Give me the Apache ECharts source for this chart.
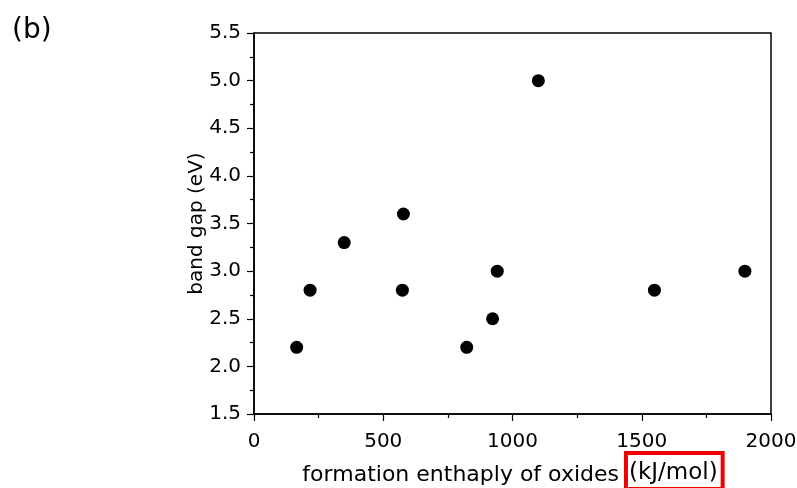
<!DOCTYPE html>
<html>
<head>
<meta charset="utf-8">
<script src="https://cdn.jsdelivr.net/npm/echarts@6/dist/echarts.min.js"></script>
<style>html,body{margin:0;padding:0;background:#fff}#c{width:797px;height:488px}</style>
</head>
<body>
<div id="c"></div>
<script>
const enthalpy = [165, 217, 349, 578, 574, 823, 923, 941, 1100, 1549, 1899];
const bandGap  = [2.2, 2.8, 3.3, 3.6, 2.8, 2.2, 2.5, 3.0, 5.0, 2.8, 3.0];
const xTitle = 'formation enthaply of oxides ';
const xUnit = '(kJ/mol)';
const yTitle = 'band gap (eV)';
const panelLabel = '(b)';

const chart = echarts.init(document.getElementById('c'), null, {renderer: 'canvas'});
const font = '"DejaVu Sans", sans-serif';
const axisCommon = {
  axisLine: {show: true, onZero: false, lineStyle: {color: '#000', width: 1.5}},
  axisTick: {show: true, inside: false, length: 7, lineStyle: {color: '#000', width: 1.2}},
  minorTick: {show: true, splitNumber: 2, length: 4, lineStyle: {color: '#000', width: 1.2}},
  splitLine: {show: false},
  nameMoveOverlap: false
};
chart.setOption({
  animation: false,
  backgroundColor: '#fff',
  title: {text: panelLabel, left: 7, top: 12, textStyle: {fontSize: 28, fontWeight: 'normal', color: '#000', fontFamily: font}},
  grid: {left: 254, right: 26, top: 33, bottom: 74, containLabel: false, outerBoundsMode: 'none', show: true, borderColor: '#000', borderWidth: 1.5},
  xAxis: Object.assign({}, axisCommon, {
    type: 'value', min: 0, max: 2000, interval: 500,
    axisLabel: {color: '#000', fontSize: 20, fontFamily: font, margin: 18, formatter: v => String(v)},
    name: '{a|' + xTitle + '}{b|' + xUnit + '}',
    nameLocation: 'middle', nameGap: 39,
    nameTextStyle: {
      rich: {
        a: {fontSize: 22, color: '#000', fontFamily: font, padding: [9, 0, 0, 0]},
        b: {fontSize: 23, color: '#000', fontFamily: font, borderColor: '#ee0000', borderWidth: 4, padding: [9, 5, 4, 3]}
      }
    }
  }),
  yAxis: Object.assign({}, axisCommon, {
    type: 'value', min: 1.5, max: 5.5, interval: 0.5,
    axisLabel: {color: '#000', fontSize: 20, fontFamily: font, margin: 13, formatter: v => v.toFixed(1)},
    name: yTitle, nameLocation: 'middle', nameGap: 47,
    nameTextStyle: {fontSize: 20, color: '#000', fontFamily: font}
  }),
  series: [{
    type: 'scatter',
    data: enthalpy.map((x, i) => [x, bandGap[i]]),
    symbol: 'circle', symbolSize: 13,
    itemStyle: {color: '#000', opacity: 1}
  }]
});
</script>
</body>
</html>
